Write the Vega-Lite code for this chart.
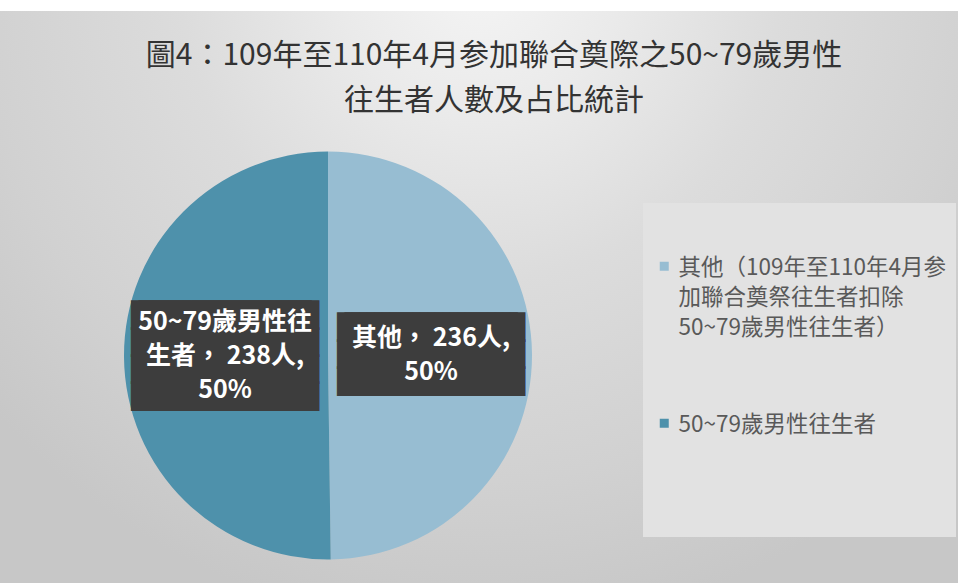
{
  "$schema": "https://vega.github.io/schema/vega-lite/v6.json",
  "width": 1260,
  "height": 689,
  "autosize": {"type": "none"},
  "padding": {"left": -302, "top": 11, "right": 0, "bottom": -117},
  "background": "#ffffff",
  "config": {
    "view": {"stroke": "#bdbdbd", "strokeWidth": 3},
    "font": "Noto Sans CJK TC"
  },
  "title": {
    "text": ["圖4：109年至110年4月参加聯合奠際之50~79歲男性", "往生者人數及占比統計"],
    "font": "Noto Sans CJK TC",
    "fontSize": 30,
    "fontWeight": "normal",
    "color": "#333333",
    "lineHeight": 45,
    "anchor": "middle",
    "frame": "group",
    "baseline": "top",
    "offset": -105,
    "dx": 166
  },
  "data": {
    "values": [
      {"category": "其他", "legend": "其他（109年至110年4月参\n加聯合奠祭往生者扣除\n50~79歲男性往生者）", "count": 236, "label": "其他， 236人,\n50%"},
      {"category": "50~79歲男性往生者", "legend": "50~79歲男性往生者", "count": 238, "label": "50~79歲男性往\n生者， 238人,\n50%"}
    ]
  },
  "layer": [
    {
      "mark": {
        "type": "rect",
        "fill": {
          "gradient": "radial",
          "x1": 0.621, "y1": 0.202, "r1": 0,
          "x2": 0.621, "y2": 0.202, "r2": 0.516,
          "stops": [
            {"offset": 0, "color": "#f4f4f4"},
            {"offset": 0.215, "color": "#eaeaea"},
            {"offset": 0.46, "color": "#dcdcdc"},
            {"offset": 0.77, "color": "#d1d1d1"},
            {"offset": 1, "color": "#c7c7c7"}
          ]
        }
      },
      "encoding": {}
    },
    {
      "mark": {"type": "arc", "outerRadius": 204},
      "encoding": {
        "theta": {"field": "count", "type": "quantitative", "stack": true},
        "order": {"field": "count", "sort": "ascending"},
        "color": {
          "field": "legend",
          "type": "nominal",
          "scale": {
            "domain": ["其他（109年至110年4月参\n加聯合奠祭往生者扣除\n50~79歲男性往生者）", "50~79歲男性往生者"],
            "range": ["#97bdd2", "#4e91ab"]
          },
          "legend": {
            "orient": "none",
            "legendX": 945,
            "legendY": 192,
            "title": " ",
            "titleFontSize": 10,
            "titlePadding": 32,
            "fillColor": "#e2e2e2",
            "padding": 10,
            "symbolType": "square",
            "symbolSize": 81,
            "symbolStrokeWidth": 0,
            "labelFont": "Noto Sans CJK TC",
            "labelFontSize": 22.5,
            "labelColor": "#595959",
            "labelLimit": 400,
            "labelOffset": 3,
            "labelBaseline": "top",
            "rowPadding": 72,
            "labelExpr": "indexof(datum.label, '\\n') >= 0 ? split(datum.label, '\\n') : [datum.label, '', '', '']",
            "encode": {"labels": {"update": {"lineHeight": {"value": 30}, "dy": {"value": -9}}}}
          }
        }
      }
    },
    {
      "mark": {
        "type": "text",
        "radius": 103,
        "font": "DejaVu Sans Mono",
        "fontSize": 25,
        "lineHeight": 27,
        "color": "#3d3d3d",
        "align": "center",
        "baseline": "middle",
        "dx": -3.76,
        "dy": {"expr": "datum.category === '其他' ? -27 : -40.5"}
      },
      "encoding": {
        "theta": {"field": "count", "type": "quantitative", "stack": true},
        "order": {"field": "count", "sort": "ascending"},
        "detail": {"field": "legend", "type": "nominal"},
        "text": {
          "condition": {"test": "datum.category === '其他'", "value": ["████████████", "████████████", "████████████"]},
          "value": ["████████████", "████████████", "████████████", "████████████"]
        }
      }
    },
    {
      "mark": {
        "type": "text",
        "radius": 103,
        "font": "DejaVu Sans Mono",
        "fontSize": 25,
        "lineHeight": 27,
        "color": "#3d3d3d",
        "align": "center",
        "baseline": "middle",
        "dx": 3.76,
        "dy": {"expr": "datum.category === '其他' ? -27 : -40.5"}
      },
      "encoding": {
        "theta": {"field": "count", "type": "quantitative", "stack": true},
        "order": {"field": "count", "sort": "ascending"},
        "detail": {"field": "legend", "type": "nominal"},
        "text": {
          "condition": {"test": "datum.category === '其他'", "value": ["████████████", "████████████", "████████████"]},
          "value": ["████████████", "████████████", "████████████", "████████████"]
        }
      }
    },
    {
      "mark": {
        "type": "text",
        "radius": 103,
        "font": "Noto Sans CJK TC",
        "fontSize": 25,
        "fontWeight": "bold",
        "lineHeight": 34,
        "lineBreak": "\n",
        "color": "#ffffff",
        "align": "center",
        "baseline": "middle",
        "dy": {"expr": "datum.category === '其他' ? -17 : -34"}
      },
      "encoding": {
        "theta": {"field": "count", "type": "quantitative", "stack": true},
        "order": {"field": "count", "sort": "ascending"},
        "detail": {"field": "legend", "type": "nominal"},
        "text": {"field": "label", "type": "nominal"}
      }
    }
  ]
}
